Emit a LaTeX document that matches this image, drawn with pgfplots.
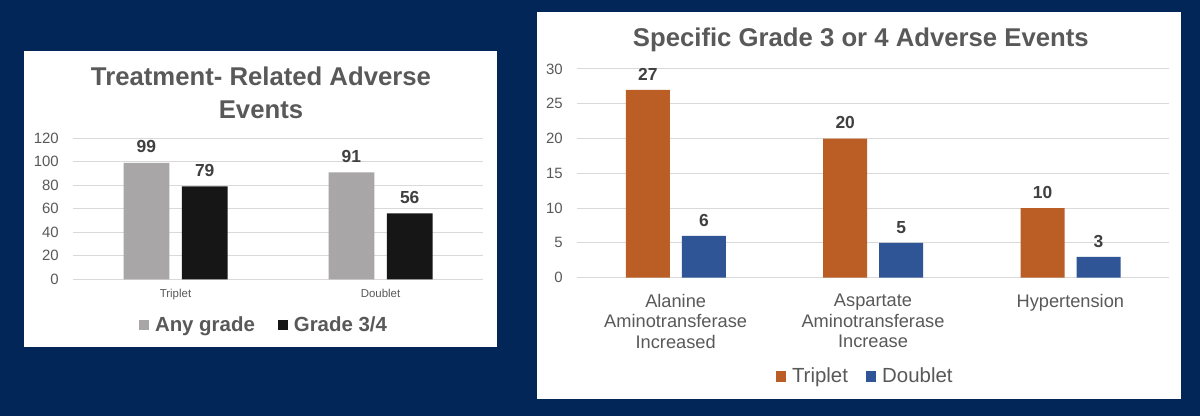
\documentclass[border=0pt]{standalone}
\usepackage{fontspec}
\setmainfont{Liberation Sans}
\usepackage{pgfplots}
\usepackage{pgfplotstable}
\pgfplotsset{compat=1.18}
\pgfplotsset{/pgf/number format/assume math mode=true}
\definecolor{bgnavy}{RGB}{2,38,88}
\definecolor{gridcol}{RGB}{217,217,217}
\definecolor{txtgray}{RGB}{89,89,89}
\definecolor{valgray}{RGB}{64,64,64}
\definecolor{anygray}{RGB}{168,166,166}
\definecolor{gblack}{RGB}{22,22,22}
\definecolor{tripcol}{RGB}{187,94,38}
\definecolor{doubcol}{RGB}{47,85,151}

\pgfplotstableread{
x any g34
0 99 79
1 91 56
}\leftdata
\pgfplotstableread{
x trip doub
0 27 6
1 20 5
2 10 3
}\rightdata

\begin{document}
\begin{tikzpicture}
\fill[bgnavy] (0bp,0bp) rectangle (1200bp,416bp);
\fill[white] (24bp,69bp) rectangle (497bp,365.3bp);
\fill[white] (537bp,17bp) rectangle (1181bp,404bp);

% ---------------- Left chart ----------------
\begin{axis}[
  at={(73bp,136.7bp)}, anchor=south west,
  scale only axis, width=410bp, height=141bp,
  xmin=-0.5, xmax=1.5, ymin=0, ymax=120,
  enlargelimits=false,
  ytick={0,20,...,120},
  xtick={0,1}, xticklabels={Triplet,Doublet},
  axis line style={draw=none},
  tick style={draw=none},
  ymajorgrids, major grid style={draw=gridcol, line width=1bp},
  yticklabel style={font=\fontsize{15}{18}\selectfont, text=txtgray, inner sep=0pt, anchor=east, xshift=-14bp},
  xticklabel style={font=\fontsize{11.5}{13}\selectfont, text=txtgray, inner sep=0pt, anchor=north, yshift=-5.3bp},
  ybar, bar width=45.7bp,
  nodes near coords,
  every node near coord/.append style={font=\bfseries\fontsize{17.5}{20}\selectfont, text=valgray, inner sep=0pt, anchor=south, yshift=9.7bp},
  title={Treatment- Related Adverse\\Events},
  every axis title/.style={at={(0.4585,1.1418)}, anchor=base, align=center, font=\bfseries\fontsize{25.8}{33.3}\selectfont, text=txtgray, inner sep=0pt},
  legend columns=2,
  legend cell align=left,
  legend style={at={(0.161,-0.3262)}, anchor=west, draw=none, fill=none, inner sep=0pt, outer sep=0pt,
    font=\bfseries\fontsize{20.5}{24}\selectfont, text=txtgray,
    nodes={inner sep=0pt, text height=0.716em, text depth=0pt},
    /tikz/every even column/.append style={column sep=23bp}},
]
\addplot[fill=anygray, draw=none, bar shift=-29.1bp,
  legend image code/.code={\fill[anygray] (0bp,-2bp) rectangle (10bp,8bp); \path (16bp,0bp);}]
  table[x=x, y=any] {\leftdata};
\addlegendentry{Any grade}
\addplot[fill=gblack, draw=none, bar shift=29.2bp,
  legend image code/.code={\fill[gblack] (0bp,-2bp) rectangle (10bp,8bp); \path (16bp,0bp);}]
  table[x=x, y=g34] {\leftdata};
\addlegendentry{Grade 3/4}
\end{axis}

% ---------------- Right chart ----------------
\begin{axis}[
  at={(577bp,138.3bp)}, anchor=south west,
  scale only axis, width=592bp, height=208.7bp,
  xmin=-0.5, xmax=2.5, ymin=0, ymax=30,
  enlargelimits=false,
  ytick={0,5,...,30},
  xtick={0,1,2},
  xticklabels={{Alanine\\Aminotransferase\\Increased},{Aspartate\\Aminotransferase\\Increase},{Hypertension}},
  axis line style={draw=none},
  tick style={draw=none},
  ymajorgrids, major grid style={draw=gridcol, line width=1bp},
  yticklabel style={font=\fontsize{15}{18}\selectfont, text=txtgray, inner sep=0pt, anchor=east, xshift=-14bp},
  xticklabel style={font=\fontsize{18.3}{20.7}\selectfont, text=txtgray, inner sep=0pt, anchor=north, yshift=-11.7bp, align=center},
  ybar, bar width=44bp,
  nodes near coords,
  every node near coord/.append style={font=\bfseries\fontsize{17.5}{20}\selectfont, text=valgray, inner sep=0pt, anchor=south, yshift=9.4bp},
  title={Specific Grade 3 or 4 Adverse Events},
  every axis title/.style={at={(0.4794,1.1069)}, anchor=base, align=center, font=\bfseries\fontsize{25.8}{30}\selectfont, text=txtgray, inner sep=0pt},
  legend columns=2,
  legend cell align=left,
  legend style={at={(0.3353,-0.4758)}, anchor=west, draw=none, fill=none, inner sep=0pt, outer sep=0pt,
    font=\fontsize{20.5}{24}\selectfont, text=txtgray,
    nodes={inner sep=0pt, text height=0.716em, text depth=0pt},
    /tikz/every even column/.append style={column sep=17.7bp}},
]
\addplot[fill=tripcol, draw=none, bar shift=-27.8bp,
  legend image code/.code={\fill[tripcol] (0bp,-2.25bp) rectangle (10.5bp,8.25bp); \path (16.5bp,0bp);}]
  table[x=x, y=trip] {\rightdata};
\addlegendentry{Triplet}
\addplot[fill=doubcol, draw=none, bar shift=28.2bp,
  legend image code/.code={\fill[doubcol] (0bp,-2.25bp) rectangle (10.5bp,8.25bp); \path (16.5bp,0bp);}]
  table[x=x, y=doub] {\rightdata};
\addlegendentry{Doublet}
\end{axis}
\end{tikzpicture}
\end{document}
